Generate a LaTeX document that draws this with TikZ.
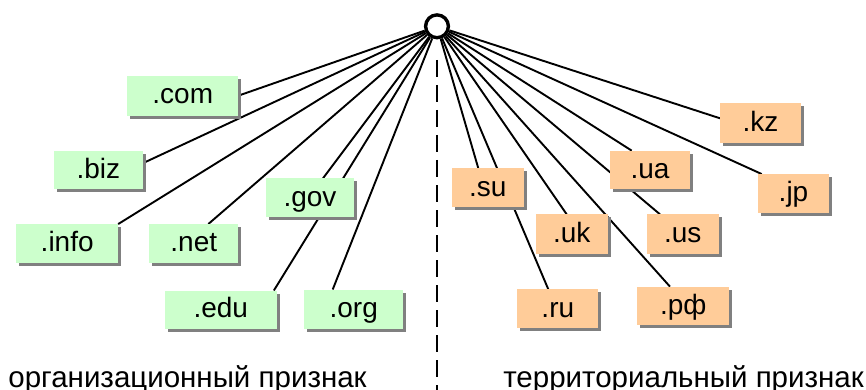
\documentclass[tikz,border=0pt]{standalone}
\usepackage{fontspec}
\setmainfont{Liberation Sans}
\usetikzlibrary{shadows,positioning}
\pgfdeclarelayer{background}
\pgfsetlayers{background,main}
\definecolor{orgfill}{RGB}{204,255,204}
\definecolor{terfill}{RGB}{255,204,153}
\definecolor{shadowgray}{RGB}{128,128,128}
\begin{document}
\begin{tikzpicture}[x=1pt,y=-1pt,
  zonebox/.style={inner sep=0pt, outer sep=0pt, align=center,
    font=\fontsize{28}{30}\selectfont, text height=19.5pt, text depth=3pt,
    drop shadow={shadow xshift=3pt, shadow yshift=-3pt, fill=shadowgray, opacity=1}},
  orgbox/.style={zonebox, fill=orgfill},
  terbox/.style={zonebox, fill=terfill},
  link/.style={line width=1.9pt, black},
  groupname/.style={font=\fontsize{29.5}{32}\selectfont, inner sep=0pt, anchor=base}]
\useasboundingbox (0,0) rectangle (866,390);
\clip (0,0) rectangle (866,390);

% root of the domain tree
\node[circle, draw, line width=3.4pt, fill=white, minimum size=22.8pt, inner sep=0pt] (root) at (437,26.3) {};

% organisational domains
\node[orgbox, minimum width=111pt, minimum height=40pt] (com) at (182.8,95.7) {.com};
\node[orgbox, minimum width=88.7pt, minimum height=38.7pt] (biz) at (98.3,170) {.biz};
\node[orgbox, minimum width=102pt, minimum height=39.3pt] (info) at (67.2,243.7) {.info};
\node[orgbox, minimum width=89pt, minimum height=39.3pt] (net) at (193.8,243.7) {.net};
\node[orgbox, minimum width=88pt, minimum height=39pt] (gov) at (310,197.8) {.gov};
\node[orgbox, minimum width=111.5pt, minimum height=38pt] (edu) at (220.8,309.5) {.edu};
\node[orgbox, minimum width=99.3pt, minimum height=39pt] (org) at (353.7,309) {.org};

% territorial domains
\node[terbox, minimum width=81pt, minimum height=40pt] (kz) at (760.5,123.3) {.kz};
\node[terbox, minimum width=80pt, minimum height=38.7pt] (ua) at (650,170) {.ua};
\node[terbox, minimum width=71.6pt, minimum height=39.3pt] (jp) at (793.5,193.7) {.jp};
\node[terbox, minimum width=72.3pt, minimum height=39pt] (su) at (487.8,187.8) {.su};
\node[terbox, minimum width=72pt, minimum height=39.7pt] (uk) at (571.7,234.2) {.uk};
\node[terbox, minimum width=72.3pt, minimum height=39.7pt] (us) at (682.8,234.2) {.us};
\node[terbox, minimum width=81pt, minimum height=39pt] (ru) at (557.8,308.8) {.ru};
\node[terbox, minimum width=92pt, minimum height=38.3pt] (rf) at (683.3,305.8) {.рф};

% group captions
\node[groupname] (orglabel) at (187.5,387.3) {организационный признак};
\node[groupname] (terlabel) at (683.5,387.3) {территориальный признак};

% separator between the groups
\coordinate (sepTop) at (436.7,60);
\coordinate (sepBot) at (436.7,392);

\begin{pgfonlayer}{background}
  \draw[line width=2pt, dash pattern=on 17pt off 8pt] (sepTop) -- (sepBot);
  \draw[link] (root) -- (com.east);
  \draw[link] (root) -- ([yshift=6.7pt]biz.east);
  \draw[link] (root) -- (info.north east);
  \draw[link] (root) -- ([xshift=14.5pt]net.north);
  \draw[link] (root) -- ([xshift=13pt]gov.north);
  \draw[link] (root) -- ([xshift=-2.7pt]edu.north east);
  \draw[link] (root) -- ([xshift=-21pt]org.north);
  \draw[link] (root) -- ([yshift=5pt]kz.west);
  \draw[link] (root) -- ([xshift=-18.3pt]ua.north);
  \draw[link] (root) -- ([xshift=4pt]jp.north west);
  \draw[link] (root) -- ([xshift=-9.5pt]su.north);
  \draw[link] (root) -- ([xshift=-5pt]uk.north);
  \draw[link] (root) -- ([xshift=-22.8pt]us.north);
  \draw[link] (root) -- ([xshift=-9.5pt]ru.north);
  \draw[link] (root) -- ([xshift=-13.3pt]rf.north);
\end{pgfonlayer}
\end{tikzpicture}
\end{document}
